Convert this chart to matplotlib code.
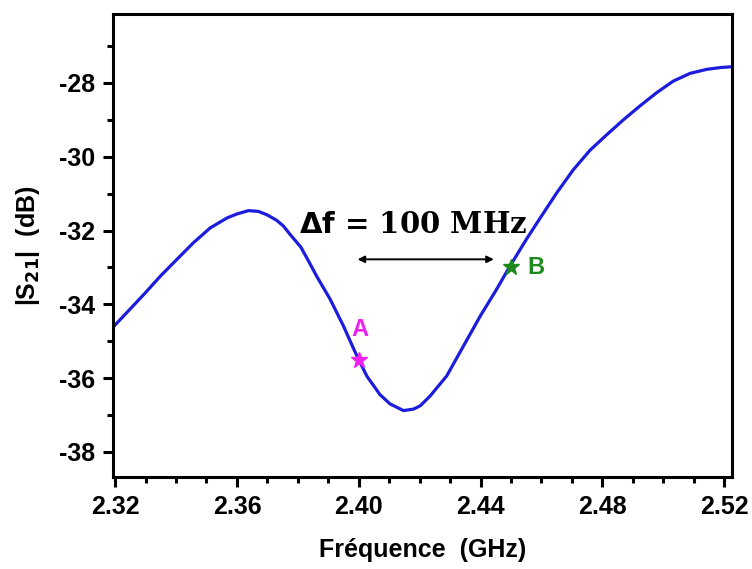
import matplotlib.pyplot as plt
from matplotlib.ticker import MultipleLocator

# data
freq = [2.3193, 2.3250, 2.3300, 2.3348, 2.3403, 2.3457, 2.3512, 2.3567, 2.3600,
        2.3638, 2.3670, 2.3698, 2.3730, 2.3753, 2.3775, 2.3810, 2.3840, 2.3862,
        2.3906, 2.3950, 2.3983, 2.4000, 2.4027, 2.4070, 2.4103, 2.4147, 2.4180,
        2.4202, 2.4235, 2.4289, 2.4344, 2.4399, 2.4453, 2.4497, 2.4552, 2.4596,
        2.4651, 2.4705, 2.4760, 2.4815, 2.4869, 2.4924, 2.4979, 2.5033, 2.5088,
        2.5143, 2.5190, 2.5226]
s21 = [-34.62, -34.12, -33.68, -33.24, -32.78, -32.33, -31.93, -31.66, -31.55,
       -31.46, -31.48, -31.57, -31.72, -31.88, -32.11, -32.45, -32.90, -33.24,
       -33.86, -34.59, -35.20, -35.50, -35.95, -36.45, -36.70, -36.88, -36.84,
       -36.75, -36.48, -35.94, -35.13, -34.32, -33.59, -32.96, -32.22, -31.66,
       -30.97, -30.35, -29.82, -29.40, -29.00, -28.62, -28.26, -27.95, -27.74,
       -27.63, -27.58, -27.56]

pointA = (2.40, -35.5)
pointB = (2.45, -33.0)
arrow_x = (2.3987, 2.4453)
arrow_y = -32.78

fig = plt.figure(figsize=(7.52, 5.69), dpi=100)
ax = fig.add_axes([0.1503, 0.1617, 0.8231, 0.8137])

ax.plot(freq, s21, color='#1c1cdc', lw=2.3)
ax.plot(*pointA, marker='*', color='#ee22ee', ms=12, mec='#ee22ee')
ax.plot(*pointB, marker='*', color='#1e8a1e', ms=12, mec='#1e8a1e')
ax.text(2.4005, -34.68, 'A', color='#ee22ee', fontsize=17, fontweight='bold',
        family='Liberation Sans', ha='center', va='center')
ax.text(2.4583, -33.0, 'B', color='#1e8a1e', fontsize=17, fontweight='bold',
        family='Liberation Sans', ha='center', va='center')

ax.annotate('', xy=(arrow_x[0], arrow_y), xytext=(arrow_x[1], arrow_y),
            arrowprops=dict(arrowstyle='<|-|>', color='black', lw=1.4,
                            mutation_scale=10))
ax.text(2.4179, -31.84, r'$\mathbf{\Delta f}$ = 100 MHz', fontsize=21,
        fontweight='bold', family='DejaVu Serif', ha='center', va='center')

ax.set_xlim(2.3193, 2.5226)
ax.set_ylim(-38.68, -26.13)
ax.xaxis.set_minor_locator(MultipleLocator(0.01))
ax.yaxis.set_minor_locator(MultipleLocator(1))
ax.set_xticks([2.32, 2.36, 2.40, 2.44, 2.48, 2.52])
ax.set_xticklabels(['2.32', '2.36', '2.40', '2.44', '2.48', '2.52'])
ax.set_yticks([-38, -36, -34, -32, -30, -28])
ax.set_yticklabels(['-38', '-36', '-34', '-32', '-30', '-28'])

for sp in ax.spines.values():
    sp.set_linewidth(2.2)
ax.tick_params(which='major', direction='out', length=7, width=2.2, pad=6)
ax.tick_params(which='minor', direction='out', length=4, width=2.2)
for lab in ax.get_xticklabels() + ax.get_yticklabels():
    lab.set_fontfamily('Liberation Sans')
    lab.set_fontweight('bold')
    lab.set_fontsize(18)

ax.set_xlabel('Fréquence  (GHz)', fontsize=18, fontweight='bold',
              family='Liberation Sans', labelpad=14)
ax.set_ylabel(r'|S$_{\mathbf{21}}$|  (dB)', fontsize=18, fontweight='bold',
              family='Liberation Sans', labelpad=12)

fig.savefig('out.png', dpi=100)
